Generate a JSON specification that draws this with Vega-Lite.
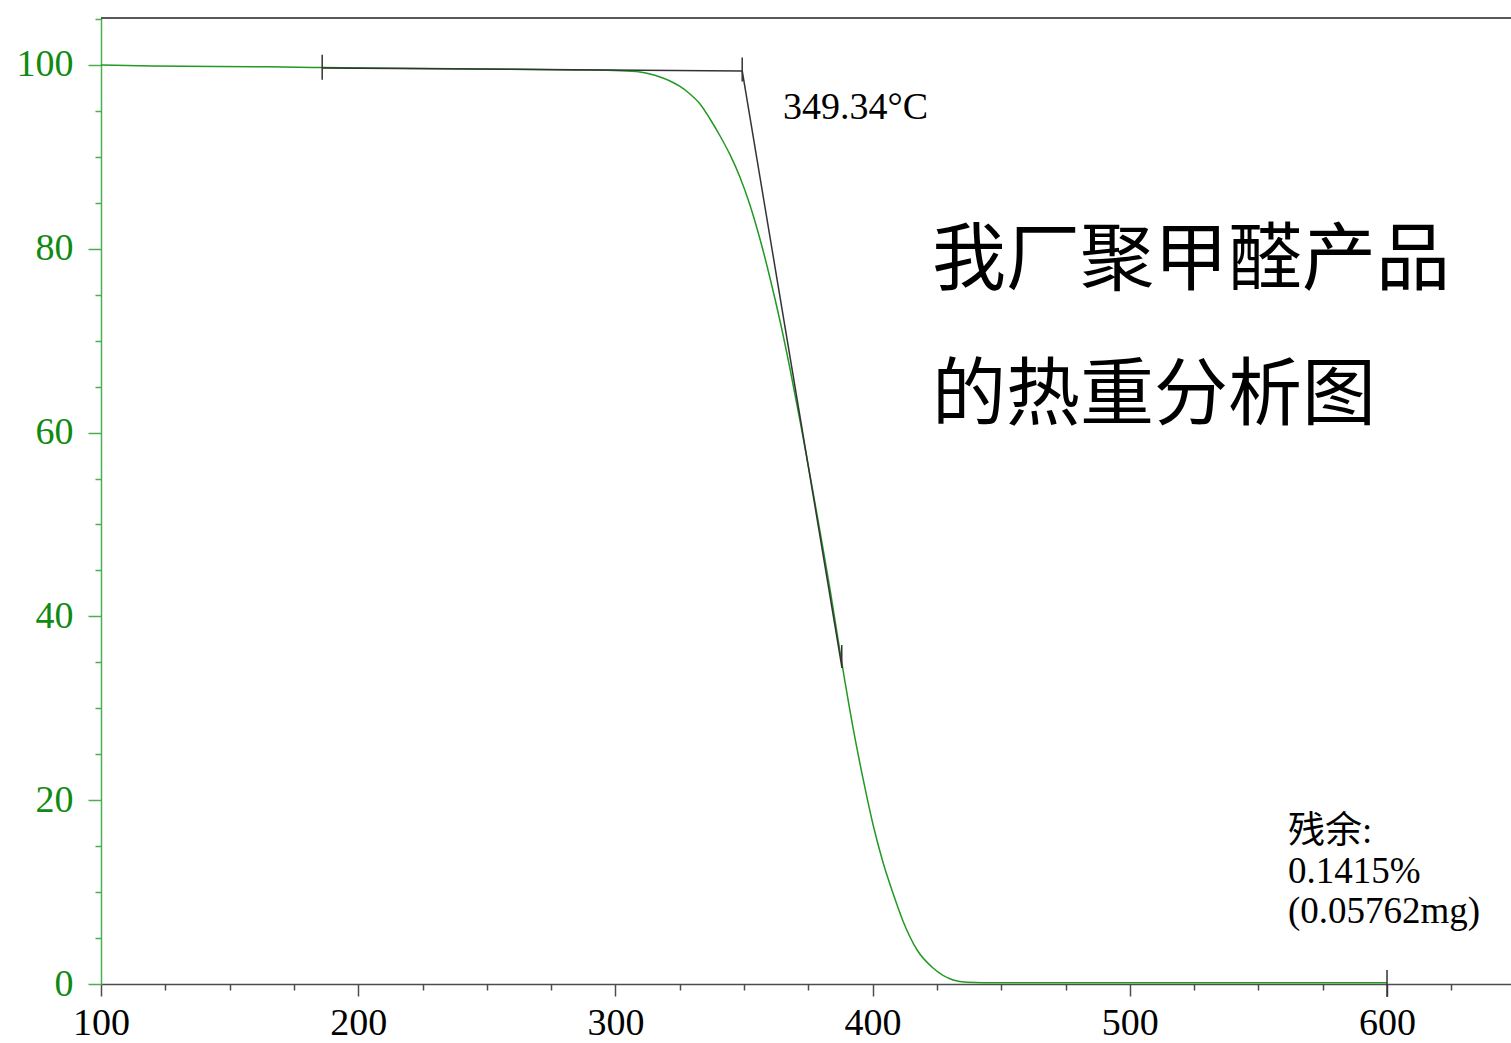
{
  "$schema": "https://vega.github.io/schema/vega-lite/v6.json",
  "width": 1410,
  "height": 966,
  "autosize": {"type": "none"},
  "padding": {"left": 101, "top": 18, "right": 0, "bottom": 59},
  "background": "white",
  "config": {"view": {"stroke": null}},
  "datasets": {
    "tga": [
      {"T": 100, "W": 100.0}, {"T": 120, "W": 99.9}, {"T": 165, "W": 99.8}, {"T": 186, "W": 99.72},
      {"T": 228, "W": 99.62}, {"T": 247, "W": 99.56}, {"T": 284, "W": 99.46}, {"T": 302, "W": 99.38},
      {"T": 309.56, "W": 99.24}, {"T": 313.45, "W": 99.02}, {"T": 317.34, "W": 98.69}, {"T": 321.23, "W": 98.26},
      {"T": 325.12, "W": 97.66}, {"T": 329.0, "W": 96.84}, {"T": 332.9, "W": 95.76}, {"T": 336.8, "W": 94.12},
      {"T": 340.7, "W": 92.27}, {"T": 344.6, "W": 90.21}, {"T": 348.4, "W": 87.81}, {"T": 352.3, "W": 84.77},
      {"T": 356.2, "W": 81.07}, {"T": 360.1, "W": 76.82}, {"T": 364.0, "W": 72.14}, {"T": 367.9, "W": 66.92},
      {"T": 371.8, "W": 61.26}, {"T": 375.7, "W": 55.28}, {"T": 379.6, "W": 49.18}, {"T": 383.5, "W": 42.87},
      {"T": 388.1, "W": 34.82}, {"T": 392.4, "W": 27.86}, {"T": 396.3, "W": 22.31}, {"T": 400.2, "W": 17.3},
      {"T": 404.0, "W": 13.28}, {"T": 407.9, "W": 9.9}, {"T": 411.8, "W": 6.86}, {"T": 417.3, "W": 3.7},
      {"T": 423.5, "W": 1.74}, {"T": 431.3, "W": 0.44}, {"T": 436.7, "W": 0.2}, {"T": 449.5, "W": 0.14},
      {"T": 600, "W": 0.14}
    ],
    "tangent": [
      {"seg": "base", "T": 186, "W": 99.67}, {"seg": "base", "T": 349.3, "W": 99.35},
      {"seg": "tan", "T": 349.3, "W": 99.35}, {"seg": "tan", "T": 388.1, "W": 34.4}
    ],
    "markers": [
      {"T": 186, "W1": 101.1, "W2": 98.4},
      {"T": 349.3, "W1": 100.8, "W2": 98.2},
      {"T": 388, "W1": 36.9, "W2": 34.4},
      {"T": 600, "W1": 1.52, "W2": -1.41}
    ]
  },
  "layer": [
    {
      "data": {"name": "tga"},
      "mark": {"type": "line", "color": "#229922", "strokeWidth": 1.5, "interpolate": "monotone"},
      "encoding": {
        "x": {
          "field": "T", "type": "quantitative",
          "scale": {"domain": [100, 648.2], "nice": false, "zero": false},
          "axis": {
            "orient": "bottom", "values": [100, 200, 300, 400, 500, 600], "tickSize": 12,
            "tickColor": "#4d4d4d", "tickWidth": 1.5, "domainColor": "#4d4d4d", "domainWidth": 1.5,
            "labelFont": "Liberation Serif", "labelFontSize": 38, "labelColor": "#000000",
            "labelPadding": 8, "grid": false, "title": null, "labelFlush": false, "labelOverlap": false
          }
        },
        "y": {
          "field": "W", "type": "quantitative",
          "scale": {"domain": [0, 105.11], "nice": false, "zero": false},
          "axis": {
            "orient": "left", "values": [0, 20, 40, 60, 80, 100], "tickSize": 13,
            "tickColor": "#4caf50", "tickWidth": 1.5, "domainColor": "#4caf50", "domainWidth": 1.5,
            "labelFont": "Liberation Serif", "labelFontSize": 38, "labelColor": "#108a10",
            "labelPadding": 15, "grid": false, "title": null, "labelFlush": false, "labelOverlap": false
          }
        }
      }
    },
    {
      "data": {"name": "tangent"},
      "mark": {"type": "line", "color": "#333333", "strokeWidth": 1.5},
      "encoding": {
        "detail": {"field": "seg"},
        "x": {
          "field": "T", "type": "quantitative",
          "axis": {
            "orient": "bottom",
            "values": [125, 150, 175, 225, 250, 275, 325, 350, 375, 425, 450, 475, 525, 550, 575, 625],
            "tickSize": 6, "tickColor": "#4d4d4d", "tickWidth": 1.5, "labels": false, "domain": false,
            "grid": false, "title": null
          }
        },
        "y": {
          "field": "W", "type": "quantitative",
          "axis": {
            "orient": "left",
            "values": [5, 10, 15, 25, 30, 35, 45, 50, 55, 65, 70, 75, 85, 90, 95, 105],
            "tickSize": 6, "tickColor": "#4caf50", "tickWidth": 1.5, "labels": false, "domain": false,
            "grid": false, "title": null
          }
        }
      }
    },
    {
      "data": {"name": "markers"},
      "mark": {"type": "rule", "color": "#333333", "strokeWidth": 1.5},
      "encoding": {
        "x": {"field": "T", "type": "quantitative", "axis": null},
        "y": {"field": "W1", "type": "quantitative", "axis": null},
        "y2": {"field": "W2"}
      }
    },
    {
      "data": {"values": [{}]},
      "mark": {"type": "rule", "color": "#222222", "strokeWidth": 1.5},
      "encoding": {
        "y": {"datum": 105.11, "type": "quantitative", "axis": null}
      }
    },
    {
      "data": {"values": [{}]},
      "mark": {"type": "text", "text": "349.34°C", "font": "Liberation Serif", "fontSize": 38, "align": "left", "baseline": "alphabetic", "color": "#000000"},
      "encoding": {
        "x": {"datum": 365.2, "type": "quantitative", "axis": null},
        "y": {"datum": 94.1, "type": "quantitative", "axis": null}
      }
    },
    {
      "data": {"values": [{}]},
      "mark": {"type": "text", "text": "我厂聚甲醛产品", "font": "Noto Sans CJK SC", "fontSize": 74, "align": "left", "baseline": "alphabetic", "color": "#000000"},
      "encoding": {
        "x": {"datum": 423.1, "type": "quantitative", "axis": null},
        "y": {"datum": 76.2, "type": "quantitative", "axis": null}
      }
    },
    {
      "data": {"values": [{}]},
      "mark": {"type": "text", "text": "的热重分析图", "font": "Noto Sans CJK SC", "fontSize": 74, "align": "left", "baseline": "alphabetic", "color": "#000000"},
      "encoding": {
        "x": {"datum": 423.1, "type": "quantitative", "axis": null},
        "y": {"datum": 61.5, "type": "quantitative", "axis": null}
      }
    },
    {
      "data": {"values": [{}]},
      "mark": {"type": "text", "text": ["残余:", "0.1415%", "(0.05762mg)"], "font": "Liberation Serif, Noto Sans CJK SC", "fontSize": 37, "lineHeight": 40, "align": "left", "baseline": "alphabetic", "color": "#000000"},
      "encoding": {
        "x": {"datum": 561.5, "type": "quantitative", "axis": null},
        "y": {"datum": 15.3, "type": "quantitative", "axis": null}
      }
    }
  ],
  "resolve": {"axis": {"x": "independent", "y": "independent"}}
}
